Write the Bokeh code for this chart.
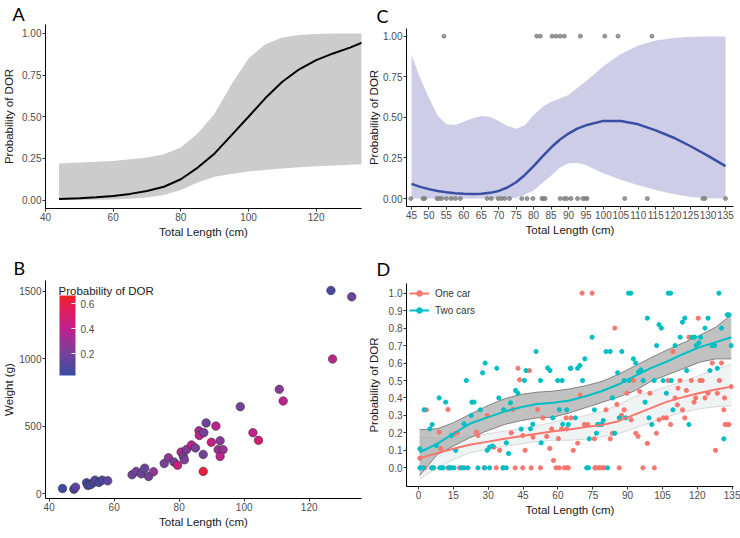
import numpy as np
from bokeh.plotting import figure
from bokeh.layouts import column, row
from bokeh.models import (ColumnDataSource, Range1d, FixedTicker, NumeralTickFormatter,
                          LinearColorMapper, ColorBar, Legend, LegendItem, Label, Title)
from bokeh.transform import transform
from bokeh.embed import file_html
from bokeh.resources import INLINE

# ---------------- Panel A: logistic fit of DOR probability ----------------
a_length = [44, 50, 55, 60, 65, 70, 75, 80, 85, 90, 95, 100, 105, 110, 115, 120, 125, 130, 133.5]
a_fit = [0.006, 0.011, 0.017, 0.025, 0.037, 0.054, 0.08, 0.125, 0.195, 0.28, 0.39, 0.50,
         0.612, 0.71, 0.785, 0.84, 0.88, 0.915, 0.945]
a_upper = [0.22, 0.225, 0.23, 0.235, 0.245, 0.255, 0.275, 0.315, 0.40, 0.52, 0.695, 0.85,
           0.935, 0.975, 0.99, 0.996, 0.999, 1.0, 1.0]
a_lower = [0.0, 0.001, 0.002, 0.004, 0.008, 0.016, 0.03, 0.06, 0.105, 0.14, 0.157, 0.171,
           0.181, 0.19, 0.197, 0.203, 0.207, 0.212, 0.215]

# ---------------- Panel B: weight vs length coloured by probability ----------------
b_length = [44.1, 47.6, 48.1, 51.5, 51.9, 52.7, 53.5, 54.1, 55.3, 56.3, 58.0,
            65.5, 66.8, 68.3, 69.4, 70.6, 72.1, 75.4, 76.7, 78.4, 79.5, 80.6, 81.3,
            81.6, 82.3, 83.8, 85.0, 86.1, 86.2, 87.6, 88.3, 87.4, 87.4, 89.9, 91.3,
            92.6, 92.0, 93.5, 92.6, 98.8, 102.7, 104.4, 110.8, 112.0, 126.7, 133.1, 127.2]
b_weight = [39, 34, 49, 82, 62, 67, 82, 101, 84, 101, 96,
            141, 166, 148, 190, 128, 163, 225, 267, 235, 212, 309, 277,
            252, 329, 362, 340, 467, 432, 453, 525, 292, 166, 382, 502,
            393, 327, 327, 277, 646, 453, 396, 774, 688, 1507, 1460, 999]
b_prob = [0.03, 0.07, 0.12, 0.04, 0.05, 0.08, 0.05, 0.12, 0.08, 0.06, 0.13,
          0.18, 0.20, 0.17, 0.16, 0.18, 0.28, 0.20, 0.27, 0.20, 0.45, 0.36, 0.22,
          0.20, 0.21, 0.42, 0.20, 0.35, 0.40, 0.20, 0.18, 0.20, 0.62, 0.45, 0.40,
          0.25, 0.30, 0.30, 0.38, 0.20, 0.42, 0.48, 0.25, 0.40, 0.08, 0.16, 0.38]
b_bar_ticks = [0.2, 0.4, 0.6]

# ---------------- Panel C: smoothed probability with observations ----------------
c_length = [45, 47.5, 50, 52.5, 55, 57.5, 60, 62.5, 65, 67.5, 70, 72.5, 75, 77.5, 80,
            82.5, 85, 87.5, 90, 92.5, 95, 100, 105, 110, 115, 120, 125, 130, 135]
c_fit = [0.09, 0.072, 0.058, 0.047, 0.039, 0.033, 0.029, 0.028, 0.029, 0.035, 0.047, 0.068,
         0.10, 0.145, 0.20, 0.258, 0.314, 0.362, 0.40, 0.43, 0.451, 0.478, 0.478, 0.457,
         0.42, 0.376, 0.322, 0.263, 0.20]
c_upper = [0.886, 0.74, 0.62, 0.51, 0.457, 0.453, 0.473, 0.494, 0.508, 0.504, 0.478, 0.447,
           0.43, 0.451, 0.514, 0.563, 0.596, 0.616, 0.637, 0.68, 0.722, 0.814, 0.89, 0.943,
           0.973, 0.988, 0.996, 0.998, 0.998]
c_lower = [0, 0, 0, 0, 0, 0, 0, 0, 0, 0, 0, 0, 0.005, 0.025, 0.05, 0.095, 0.14, 0.19,
           0.218, 0.22, 0.205, 0.155, 0.115, 0.082, 0.052, 0.028, 0.01, 0.002, 0.0]
c_obs_one = [54.3, 80.9, 81.9, 85.3, 86.4, 87.6, 88.8, 93.4, 100.4, 104.2, 113.9]
c_obs_zero = [44.8, 48.3, 48.8, 52.3, 52.9, 53.6, 55.0, 56.4, 57.6, 59.0, 66.7, 67.9,
              69.8, 70.7, 71.7, 73.1, 76.6, 78.1, 79.8, 82.4, 82.8, 83.3, 87.6, 88.8,
              89.5, 90.7, 92.6, 94.1, 94.8, 95.3, 106.1, 112.6, 128.5, 129.1, 135.0]

# ---------------- Panel D: one car vs two cars ----------------
two_x = [0.6, 2.0, 5.6, 6.3, 9.2, 9.9, 10.6, 13.0, 13.4, 14.2, 15.3, 18.4, 19.2, 21.3, 25.6,
         28.5, 30.6, 36.3, 37.8, 72.4, 73.2, 81.4,
         0.6, 2.4, 4.9, 5.9, 7.7, 8.9, 11.7, 14.2, 16.0, 19.6, 20.6, 22.7, 23.0, 23.9, 26.6,
         27.6, 28.7, 29.6, 30.6, 31.8, 33.7, 34.6, 36.6, 37.8, 38.8, 39.6, 41.8, 42.8, 44.2,
         45.6, 46.3, 48.2, 49.2, 50.6, 52.5, 52.8, 55.6, 56.6, 57.8, 59.9, 60.6, 61.8, 62.1,
         63.8, 65.4,
         64.5, 65.6, 67.5, 68.5, 69.5, 70.6, 71.6, 73.5, 74.7, 75.7, 76.6, 77.1, 77.8, 78.9,
         79.5, 80.7, 82.5, 83.5, 84.5, 85.7, 86.4, 87.5, 88.5, 89.2, 90.4, 90.6, 91.4, 92.5,
         93.5, 94.7, 95.7, 96.7, 97.5, 98.5, 99.2, 100.4, 101.4, 102.5, 103.5, 104.5, 105.3,
         106.7, 107.5, 108.5, 108.8, 109.5, 110.4, 112.6, 113.6, 114.6, 115.4, 116.4, 117.8,
         118.8, 119.5, 120.7, 121.4, 123.3, 124.6, 125.4, 126.4, 127.4, 128.6, 129.3, 130.4,
         131.4, 132.9, 133.6, 134.6]
two_y = [0, 0, 0, 0, 0, 0, 0, 0, 0, 0, 0, 0, 0, 0, 0,
         0, 0, 0, 0, 0, 0, 0,
         0.109, 0.332, 0.223, 0.248, 0.128, 0.40, 0.376, 0.185, 0.10, 0.252, 0.50, 0.30, 0.376,
         0.376, 0.332, 0.544, 0.60, 0.10, 0.118, 0.125, 0.57, 0.40, 0.332, 0.143, 0.082, 0.372,
         0.443, 0.427, 0.222, 0.50, 0.557, 0.223, 0.25, 0.666, 0.50, 0.143, 0.572, 0.557,
         0.286, 0.50, 0.333, 0.50, 0.25, 0.332, 0.57,
         0.248, 0.57, 0.286, 0.57, 0.586, 0.50, 0.624, 0.166, 0.748, 0.332, 0.198, 0.248,
         0.248, 0.248, 0.271, 0.666, 0.666, 0.40, 0.198, 0.544, 0.286, 0.666, 0.50, 0.286,
         1.0, 0.50, 1.0, 0.624, 0.60, 0.548, 0.561, 0.50, 0.376, 0.857, 0.286, 0.248, 0.50,
         0.70, 0.82, 0.80, 0.50, 0.427, 1.0, 1.0, 0.50, 0.332, 0.70, 0.748, 0.834, 0.857,
         0.557, 0.248, 0.748, 0.748, 0.70, 0.716, 0.748, 0.80, 0.857, 0.557, 0.70, 0.70,
         0.57, 1.0, 0.80, 0.166, 0.876, 0.876, 0.70]
one_x = [2.7, 6.6, 12.7, 17.7, 19.9, 28.2, 33.5, 36.6, 41.6, 44.9, 48.5, 52.5, 59.2, 60.6,
         62.8, 63.8, 64.5, 75.9, 76.4, 77.4, 78.2, 79.2, 79.9, 86.4, 96.6, 101.5,
         0.6, 3.4, 8.9, 9.6, 12.7, 15.6, 16.7, 24.9, 25.6, 29.6, 32.5, 34.9, 39.9, 40.6, 42.8,
         43.5, 44.9, 45.9, 47.8, 49.3, 51.3, 53.5, 55.2, 56.5, 57.3, 58.1, 60.2, 61.6, 63.5,
         63.8, 65.6, 66.6, 68.5, 69.5, 70.4, 71.4, 72.8, 74.7, 75.7, 80.7, 82.5, 83.5, 84.5,
         85.4, 87.4, 88.5, 89.7, 91.5, 92.5, 93.5, 94.5, 95.2, 98.5, 99.6, 102.4, 103.5, 105.4,
         106.7, 107.4, 108.5, 109.5, 110.4, 111.4, 111.7, 112.5, 113.6, 114.6, 115.3, 116.4,
         117.4, 118.6, 119.3, 120.4, 121.1, 122.1, 123.3, 124.6, 126.4, 127.8, 128.6, 129.5,
         130.4, 131.4, 131.7, 132.0, 133.1, 133.6, 134.6]
one_y = [0, 0, 0, 0, 0, 0, 0, 0, 0, 0, 0, 0, 0, 0,
         0, 0, 0, 0, 0, 0, 0, 0, 0, 0, 0, 0,
         0.055, 0.332, 0.204, 0.11, 0.334, 0.195, 0.20, 0.204, 0.185, 0.30, 0.118, 0.10, 0.20,
         0.334, 0.57, 0.504, 0.185, 0.10, 0.557, 0.176, 0.334, 0.286, 0.18, 0.111, 0.223, 0.042,
         0.167, 0.223, 0.286, 0.223, 0.286, 0.10, 0.141, 0.417, 1.0, 0.248, 0.248, 1.0, 0.166,
         0.332, 0.166, 0.198, 0.80, 0.363, 0.30, 0.332, 0.427, 0.275, 0.50, 0.198, 0.18, 0.437,
         0.14, 0.427, 0.198, 0.275, 0.286, 0.286, 0.50, 0.248, 0.666, 0.40, 0.36, 0.456, 0.50,
         0.332, 0.286, 0.443, 0.748, 0.50, 0.376, 0.40, 0.857, 0.50, 0.50, 0.40, 0.427, 0.60,
         0.10, 0.427, 0.50, 0.60, 0.332, 0.40, 0.248, 0.248, 0.248, 0.465]

d_smooth_x = [0.5, 8, 15, 22, 30, 37, 44, 51, 58, 65, 72, 79, 86, 93, 100, 107, 114, 121, 128, 134.6]
two_fit = [0.089, 0.137, 0.195, 0.252, 0.29, 0.322, 0.347, 0.366, 0.373, 0.386, 0.41, 0.44,
           0.477, 0.525, 0.571, 0.609, 0.652, 0.691, 0.72, 0.748]
two_upper = [0.218, 0.223, 0.258, 0.305, 0.357, 0.395, 0.42, 0.433, 0.439, 0.452, 0.47, 0.495,
             0.535, 0.582, 0.63, 0.675, 0.716, 0.758, 0.806, 0.876]
two_lower = [-0.044, 0.075, 0.125, 0.172, 0.214, 0.248, 0.27, 0.286, 0.29, 0.315, 0.345, 0.375,
             0.405, 0.44, 0.495, 0.532, 0.568, 0.605, 0.624, 0.624]
one_fit = [0.055, 0.084, 0.109, 0.132, 0.15, 0.166, 0.181, 0.195, 0.21, 0.22, 0.234, 0.245,
           0.267, 0.305, 0.342, 0.379, 0.405, 0.428, 0.448, 0.465]
one_upper = [0.175, 0.17, 0.17, 0.18, 0.195, 0.21, 0.225, 0.24, 0.262, 0.283, 0.30, 0.322,
             0.36, 0.408, 0.437, 0.465, 0.495, 0.53, 0.562, 0.595]
one_lower = [-0.065, 0.0, 0.048, 0.085, 0.108, 0.123, 0.137, 0.15, 0.158, 0.158, 0.165, 0.178,
             0.195, 0.228, 0.26, 0.293, 0.318, 0.338, 0.35, 0.357]

RED = "#F8766D"
CYAN = "#00BFC4"
FONT = "Liberation Sans"


def make_fig(width, height, left, right, top, bottom, xr, yr):
    p = figure(width=width, height=height, x_range=Range1d(*xr), y_range=Range1d(*yr),
               output_backend="svg", toolbar_location=None,
               min_border_left=left, min_border_right=right,
               min_border_top=top, min_border_bottom=bottom)
    p.outline_line_color = None
    p.grid.visible = False
    p.background_fill_color = "white"
    p.border_fill_color = "white"
    for ax in (p.xaxis[0], p.yaxis[0]):
        ax.axis_line_color = "black"
        ax.axis_line_width = 1
        ax.major_tick_line_color = "#333333"
        ax.major_tick_out = 3
        ax.major_tick_in = 0
        ax.minor_tick_line_color = None
        ax.major_label_text_font = FONT
        ax.major_label_text_font_size = "10px"
        ax.major_label_text_color = "#4d4d4d"
        ax.major_label_standoff = 1
        ax.axis_label_text_font = FONT
        ax.axis_label_text_font_size = "11.5px"
        ax.axis_label_text_font_style = "normal"
        ax.axis_label_text_color = "#1a1a1a"
        ax.axis_label_standoff = 2
    return p


def letter(p, text, offset, standoff):
    # panel tag drawn as a left-aligned title that hangs out past the frame's left edge
    p.title = Title(text=text, align="left", offset=offset, standoff=standoff,
                    text_font="Lato", text_font_size="18px",
                    text_font_style="normal", text_color="black")


# Left column shares left/right borders (43 / 3), right column (41 / 7).

# ---- A ----
pA = make_fig(364, 242, 43, 3, 23, 34, (40, 133.4), (-0.0507, 1.0537))
pA.varea(x=a_length, y1=a_lower, y2=a_upper, fill_color="#cccccc")
pA.line(a_length, a_fit, line_color="black", line_width=2)
pA.xaxis.ticker = FixedTicker(ticks=[40, 60, 80, 100, 120])
pA.yaxis.ticker = FixedTicker(ticks=[0, 0.25, 0.5, 0.75, 1.0])
pA.yaxis.formatter = NumeralTickFormatter(format="0.00")
pA.xaxis.axis_label = "Total Length (cm)"
pA.yaxis.axis_label = "Probability of DOR"
pA.yaxis.axis_label_standoff = 4
letter(pA, "A", -33, 0)

# ---- B ----
stops = [(0.0, "#3b4ba3"), (0.3, "#7d3f99"), (0.6, "#c3208c"), (0.85, "#e31d57"), (1.0, "#ee2324")]


def _rgb(h):
    return [int(h[i:i + 2], 16) for i in (1, 3, 5)]


palette = []
for i in range(256):
    t = i / 255
    for (t0, c0), (t1, c1) in zip(stops[:-1], stops[1:]):
        if t0 <= t <= t1:
            f = (t - t0) / (t1 - t0)
            a, b = _rgb(c0), _rgb(c1)
            palette.append("#%02x%02x%02x" % tuple(round(a[k] + (b[k] - a[k]) * f) for k in range(3)))
            break

mapper = LinearColorMapper(palette=palette, low=0.024, high=0.666)
srcB = ColumnDataSource(dict(x=b_length, y=b_weight, prob=b_prob))
pB = make_fig(364, 296, 43, 3, 38, 40, (38.87, 136.1), (-35, 1581))
pB.scatter("x", "y", source=srcB, size=8.5, fill_color=transform("prob", mapper),
           line_color="#333333", line_width=0.6)
pB.xaxis.ticker = FixedTicker(ticks=[40, 60, 80, 100, 120])
pB.yaxis.ticker = FixedTicker(ticks=[0, 500, 1000, 1500])
pB.xaxis.axis_label = "Total Length (cm)"
pB.yaxis.axis_label = "Weight (g)"
pB.yaxis.axis_label_standoff = 1
cb = ColorBar(color_mapper=mapper, orientation="vertical", location=(14, 123), width=16, height=80,
              ticker=FixedTicker(ticks=b_bar_ticks), formatter=NumeralTickFormatter(format="0.0"),
              major_label_text_font=FONT, major_label_text_font_size="10px",
              major_label_text_color="#4d4d4d", label_standoff=5,
              major_tick_line_color="white", major_tick_in=4, major_tick_out=0,
              minor_tick_line_color=None, bar_line_color=None,
              background_fill_alpha=0, border_line_color=None, padding=0, margin=0)
pB.add_layout(cb, "center")
pB.add_layout(Label(x=pB.x_range.start, y=pB.y_range.end, x_offset=13, y_offset=-10,
                    text="Probability of DOR", text_font=FONT, text_font_size="11.5px",
                    text_color="#1a1a1a", text_baseline="alphabetic"))
letter(pB, "B", -32, 4)

# ---- C ----
pC = make_fig(376, 242, 41, 7, 27, 36, (43.571, 137.29), (-0.049, 1.047))
pC.varea(x=c_length, y1=c_lower, y2=c_upper, fill_color="#cdcde8")
pC.line(c_length, c_fit, line_color="#3a4fa3", line_width=2.5)
pC.scatter(c_obs_one, [1.0] * len(c_obs_one), size=4, color="#7f7f7f", alpha=0.8)
pC.scatter(c_obs_zero, [0.0] * len(c_obs_zero), size=4, color="#7f7f7f", alpha=0.8)
pC.xaxis.ticker = FixedTicker(ticks=list(range(45, 136, 5)))
pC.yaxis.ticker = FixedTicker(ticks=[0, 0.25, 0.5, 0.75, 1.0])
pC.yaxis.formatter = NumeralTickFormatter(format="0.00")
pC.xaxis.axis_label = "Total Length (cm)"
pC.yaxis.axis_label = "Probability of DOR"
pC.yaxis.axis_label_standoff = 0
letter(pC, "C", -30, 4)

# ---- D ----
pD = make_fig(376, 296, 41, 7, 41, 52, (-5.148, 135.56), (-0.107, 1.0555))
pD.varea(x=d_smooth_x, y1=one_lower, y2=one_upper, fill_color="#eef2f2", fill_alpha=0.9)
pD.line(d_smooth_x, one_upper, line_color="#d3d9d9", line_width=1)
pD.line(d_smooth_x, one_lower, line_color="#d3d9d9", line_width=1)
pD.varea(x=d_smooth_x, y1=two_lower, y2=two_upper, fill_color="#a6a6a6", fill_alpha=0.7)
pD.line(d_smooth_x, two_upper, line_color="#808080", line_width=1)
pD.line(d_smooth_x, two_lower, line_color="#808080", line_width=1)
pD.scatter(one_x, one_y, size=4.2, color=RED)
pD.scatter(two_x, two_y, size=4.2, color=CYAN)
pD.line(d_smooth_x, one_fit, line_color=RED, line_width=2)
pD.line(d_smooth_x, two_fit, line_color=CYAN, line_width=2)
k1 = pD.line([np.nan], [np.nan], line_color=RED, line_width=2)
k1d = pD.scatter([np.nan], [np.nan], size=7, color=RED)
k2 = pD.line([np.nan], [np.nan], line_color=CYAN, line_width=2)
k2d = pD.scatter([np.nan], [np.nan], size=7, color=CYAN)
legend = Legend(items=[LegendItem(label="One car", renderers=[k1, k1d]),
                       LegendItem(label="Two cars", renderers=[k2, k2d])],
                location="top_left", margin=3, padding=0, spacing=3,
                glyph_width=20, glyph_height=14, label_height=14, label_standoff=6,
                label_text_font=FONT, label_text_font_size="10px", label_text_color="#333333",
                background_fill_alpha=0, border_line_color=None)
pD.add_layout(legend)
pD.xaxis.ticker = FixedTicker(ticks=list(range(0, 136, 15)))
pD.yaxis.ticker = FixedTicker(ticks=[round(0.1 * i, 1) for i in range(11)])
pD.yaxis.formatter = NumeralTickFormatter(format="0.0")
pD.xaxis.axis_label = "Total Length (cm)"
pD.yaxis.axis_label = "Probability of DOR"
pD.yaxis.axis_label_standoff = 6
letter(pD, "D", -30, 7)

layout = row(column(pA, pB), column(pC, pD))
open("out.html", "w").write(file_html(layout, INLINE))
